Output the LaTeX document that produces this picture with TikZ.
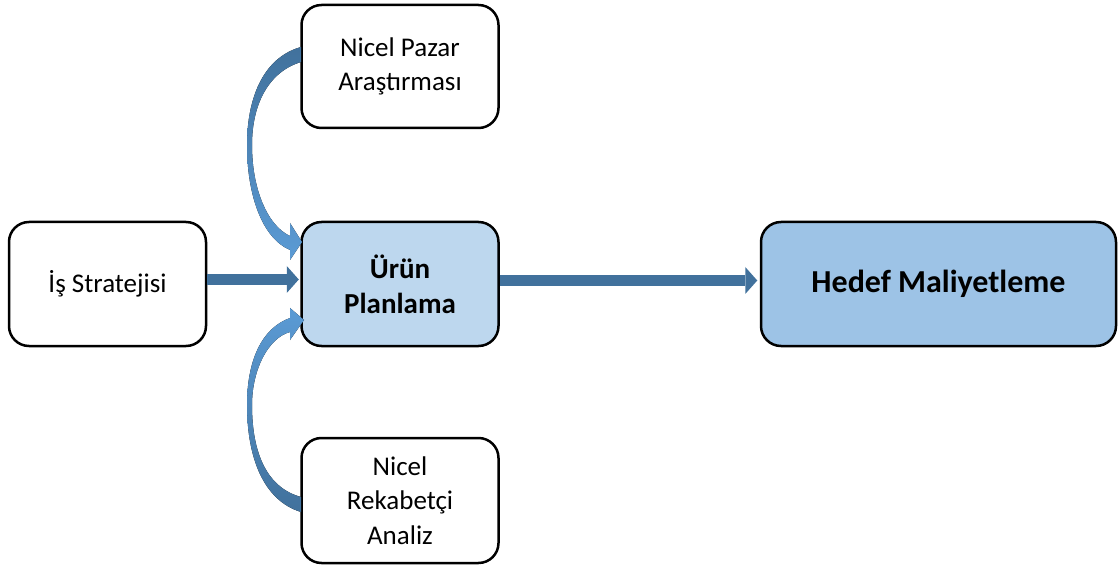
\documentclass[tikz,border=0pt]{standalone}
\usepackage{fontspec}
\setmainfont{Carlito}
\usetikzlibrary{arrows.meta,calc}

\definecolor{arrowdark}{HTML}{41719C}
\definecolor{arrowlight}{HTML}{5B9BD5}
\definecolor{planfill}{HTML}{BDD7EE}
\definecolor{costfill}{HTML}{9DC3E6}

\tikzset{
  box/.style={draw=black, line width=2.5pt, rounded corners=20pt,
    minimum width=197pt, minimum height=124pt, align=center,
    inner sep=4pt, font=\fontsize{27}{34.5}\selectfont},
  flow/.style={draw=arrowdark, line width=11pt,
    -{Triangle[width=27pt,length=12pt,line width=0pt]}},
}

\begin{document}
\begin{tikzpicture}[x=1pt,y=-1pt]
  \useasboundingbox (0,0) rectangle (1119,569);

  % boxes
  \node[box] (strat) at (107.5,284) {İş Stratejisi};
  \node[box, fill=planfill, font=\fontsize{29}{35}\selectfont\bfseries]
    (plan) at (400,284) {Ürün\\Planlama};
  \node[box, minimum height=123pt] (market) at (400,66.5) {Nicel Pazar\\Araştırması};
  \node[box, minimum height=125pt] (rival) at (400,500.5) {Nicel\\Rekabetçi\\Analiz};
  \node[box, fill=costfill, minimum width=355pt,
        font=\fontsize{32}{38}\selectfont\bfseries]
    (cost) at (938.5,284) {Hedef Maliyetleme};

  % straight flows
  \draw[flow, shorten >=1.5pt] ($(strat.east)+(0,-4.5)$) -- ($(plan.west)+(0,-4.5)$);
  \draw[flow, shorten >=2.5pt] ($(plan.east)+(0,-3.5)$) -- ($(cost.west)+(0,-3.5)$);

  % curved flow from the market study into product planning
  \fill[top color=arrowdark, bottom color=arrowlight]
    (301,47) .. controls (262,58) and (247,100) .. (247,145)
    .. controls (247,195) and (262,238) .. (290,250)
    -- (290,260) -- (302,242) -- (290,223) -- (290,236)
    .. controls (268,226) and (252,190) .. (252,145)
    .. controls (252,105) and (268,72) .. (301,62) -- cycle;

  % curved flow from the competitor analysis into product planning
  \fill[top color=arrowlight, bottom color=arrowdark]
    (301,512) .. controls (262,500) and (247,455) .. (247,405)
    .. controls (247,360) and (262,328) .. (290,318)
    -- (290,308) -- (304,320) -- (290,340) -- (290,332)
    .. controls (268,338) and (252,370) .. (252,405)
    .. controls (252,455) and (268,488) .. (301,497) -- cycle;
\end{tikzpicture}
\end{document}
